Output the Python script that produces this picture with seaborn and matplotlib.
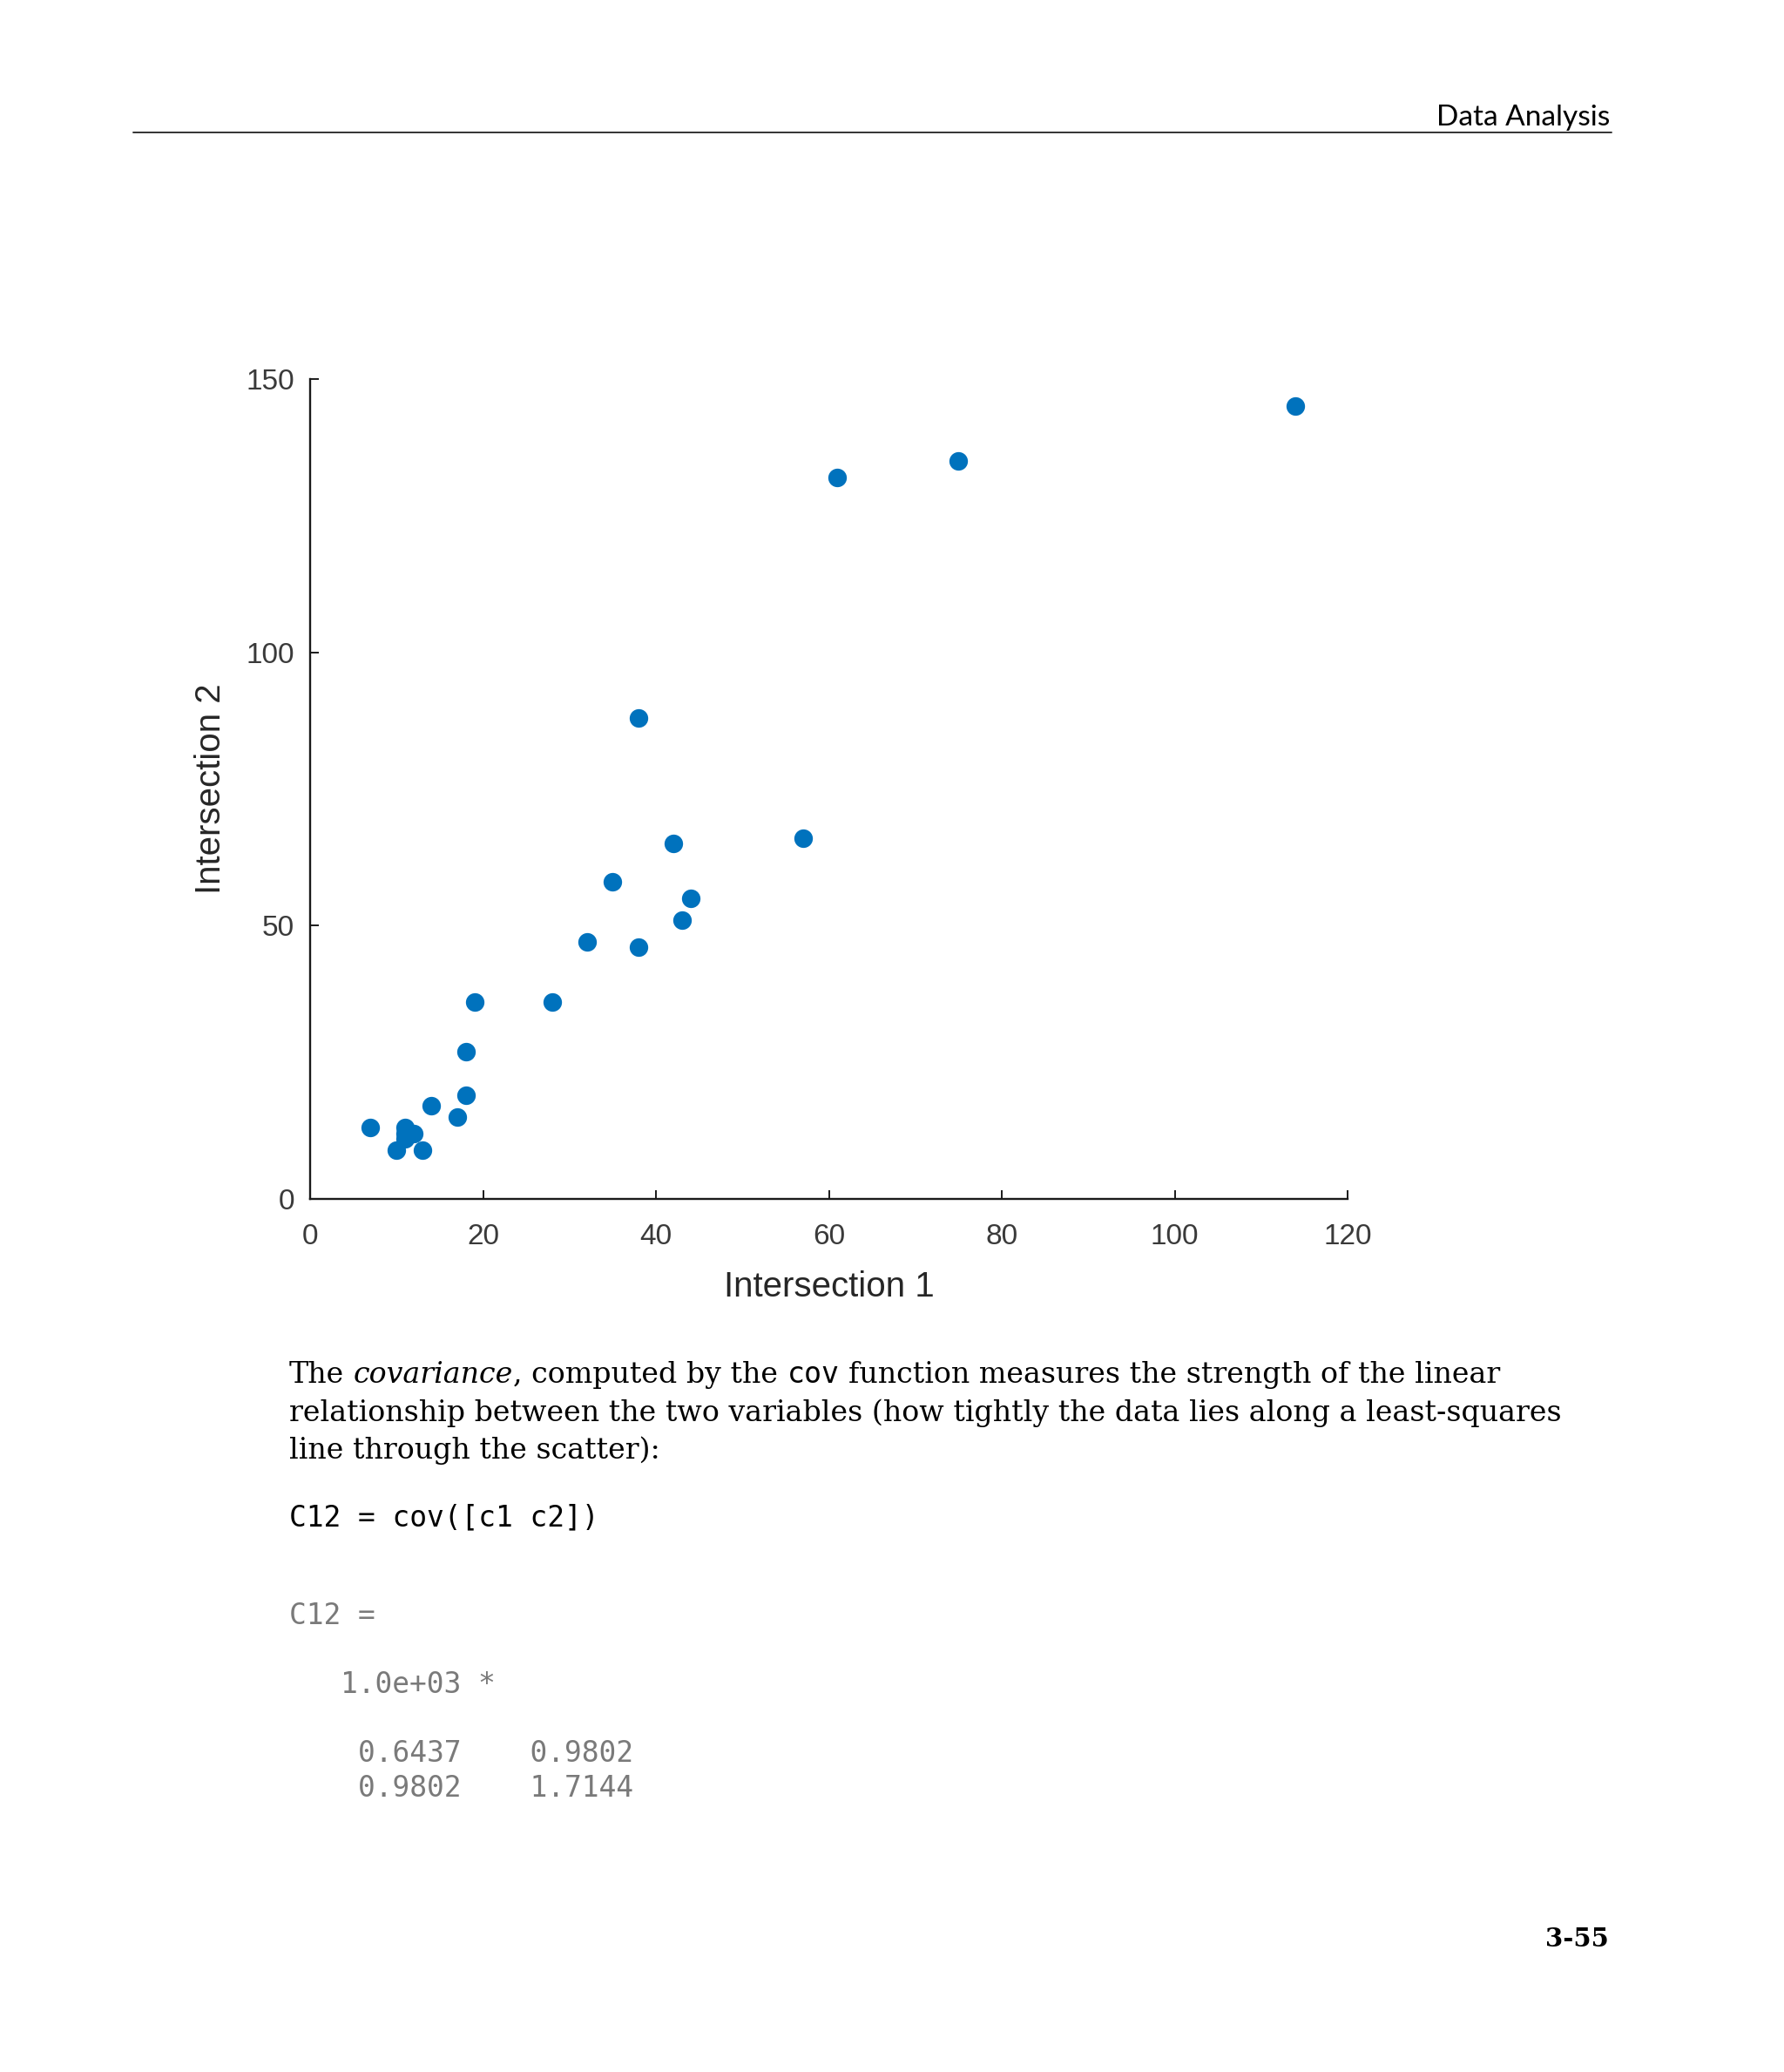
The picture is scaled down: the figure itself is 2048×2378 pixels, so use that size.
import matplotlib
matplotlib.use("Agg")
import matplotlib.pyplot as plt
import seaborn as sns
import pandas as pd
from matplotlib.font_manager import FontProperties
from matplotlib.lines import Line2D
from matplotlib.transforms import IdentityTransform

# Data: first two columns of count.dat (c1, c2)
c1 = [11, 7, 14, 11, 43, 38, 61, 75, 38, 28, 12, 18, 18, 17, 19, 32, 42, 57, 44, 114, 35, 11, 13, 10]
c2 = [11, 13, 17, 13, 51, 46, 132, 135, 88, 36, 12, 27, 19, 15, 36, 47, 65, 66, 55, 145, 58, 12, 9, 9]

x_ticks = [0, 20, 40, 60, 80, 100, 120]
y_ticks = [0, 50, 100, 150]
x_label = "Intersection 1"
y_label = "Intersection 2"

header_text = "Data Analysis"
page_number = "3-55"

# Body text, as runs of (text, style)
body_lines = [
    [("The ", "serif"), ("covariance", "italic"), (", computed by the ", "serif"),
     ("cov", "mono"), (" function measures the strength of the linear", "serif")],
    [("relationship between the two variables (how tightly the data lies along a least-squares", "serif")],
    [("line through the scatter):", "serif")],
]
code_line = "C12 = cov([c1 c2])"
output_lines = ["C12 =", "   1.0e+03 *", "    0.6437    0.9802", "    0.9802    1.7144"]

W, H = 2048, 2378
DPI = 100

sns.set_theme(style="ticks")
plt.rcParams['font.family'] = ['Liberation Sans', 'DejaVu Sans']

fig = plt.figure(figsize=(W / DPI, H / DPI), dpi=DPI, facecolor="white")

# Axes placed from pixel box: left 356, right 1547, top 435, bottom 1376
ax_left, ax_right, ax_top, ax_bottom = 356, 1547, 435, 1376
ax = fig.add_axes([ax_left / W, 1 - ax_bottom / H,
                   (ax_right - ax_left) / W, (ax_bottom - ax_top) / H])

df = pd.DataFrame({"c1": c1, "c2": c2})
sns.scatterplot(data=df, x="c1", y="c2", ax=ax, color="#0072BD",
                s=235, edgecolor="#0072BD", linewidth=0, legend=False)

ax.set_xlim(0, 120)
ax.set_ylim(0, 150)
ax.set_xticks(x_ticks)
ax.set_yticks(y_ticks)
sns.despine(ax=ax)
axis_color = "#1a1a1a"
for side in ["left", "bottom"]:
    ax.spines[side].set_color(axis_color)
    ax.spines[side].set_linewidth(1.7)
ax.tick_params(direction="in", length=7, width=1.4, colors=axis_color,
               labelsize=24, labelcolor="#3a3a3a")
ax.tick_params(axis="x", pad=20)
ax.tick_params(axis="y", pad=13)
ax.set_xlabel(x_label, fontsize=29, color="#262626")
ax.set_ylabel(y_label, fontsize=29, color="#262626")
ax.xaxis.set_label_coords(0.5, -0.087)
ax.yaxis.set_label_coords(-0.080, 0.5)

px = IdentityTransform()

# Header with rule
fig.text(1848, H - 144, header_text, transform=px, ha="right", va="baseline",
         fontsize=24, family="Lato", color="black")
fig.add_artist(Line2D([153, 1850], [H - 152, H - 152], transform=px,
                      color="#333333", linewidth=1.4))

renderer = fig.canvas.get_renderer()

serif = FontProperties(family="DejaVu Serif", size=20)
italic = FontProperties(family="DejaVu Serif", style="italic", size=20)
mono = FontProperties(family="DejaVu Sans Mono", size=20)
styles = {"serif": serif, "italic": italic, "mono": mono}


def advance(text, props):
    """Pen advance of text in pixels, spaces included."""
    w1, _, _ = renderer.get_text_width_height_descent("|" + text + "|", props, ismath=False)
    w0, _, _ = renderer.get_text_width_height_descent("||", props, ismath=False)
    return w1 - w0


def draw_runs(runs, x, y_base, color="black"):
    for text, kind in runs:
        props = styles[kind]
        lead = len(text) - len(text.lstrip(" "))
        x_draw = x + (advance(" " * lead, props) if lead else 0)
        fig.text(x_draw, y_base, text.strip(" "), transform=px, ha="left",
                 va="baseline", fontproperties=props, color=color)
        x += advance(text, props)
    return x


# Fit body font size so the first line spans the reference width
target = 1718 - 332
measured = sum(advance(t, styles[k]) for t, k in body_lines[0])
body_size = 20 * target / measured
for p in (serif, italic, mono):
    p.set_size(body_size)

baselines = [1587, 1631, 1674]
for runs, yb in zip(body_lines, baselines):
    draw_runs(runs, 332, H - yb)

code_props = FontProperties(family="DejaVu Sans Mono", size=23.7)
styles["code"] = code_props
draw_runs([(code_line, "code")], 332, H - 1751, color="black")
for line, yb in zip(output_lines, [1864, 1943, 2022, 2062]):
    draw_runs([(line, "code")], 332, H - yb, color="#7a7a7a")

fig.text(1847, H - 2234, page_number, transform=px, ha="right", va="baseline",
         fontsize=21, family="DejaVu Serif", fontweight="bold", color="black")

fig.savefig("out.png", dpi=DPI, facecolor="white")
